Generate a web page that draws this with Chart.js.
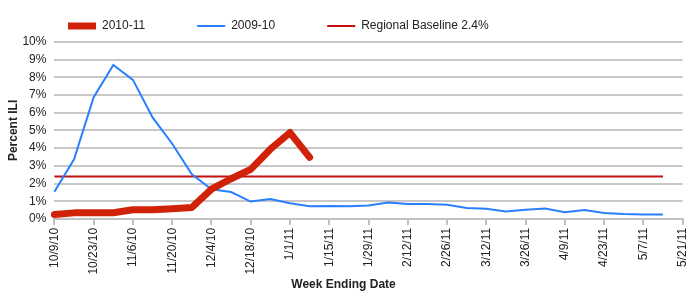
<!DOCTYPE html>
<html>
<head>
<meta charset="utf-8">
<script src="https://cdn.jsdelivr.net/npm/chart.js@4"></script>
<style>
  body { margin: 0; background: #fff; }
</style>
</head>
<body>
<canvas id="chart" width="700" height="300"></canvas>
<script>
const weeks = [
    '10/9/10', '10/16/10', '10/23/10', '10/30/10', '11/6/10', '11/13/10', '11/20/10', '11/27/10',
    '12/4/10', '12/11/10', '12/18/10', '12/25/10', '1/1/11', '1/8/11', '1/15/11', '1/22/11',
    '1/29/11', '2/5/11', '2/12/11', '2/19/11', '2/26/11', '3/5/11', '3/12/11', '3/19/11',
    '3/26/11', '4/2/11', '4/9/11', '4/16/11', '4/23/11', '4/30/11', '5/7/11', '5/14/11', '5/21/11'
];

// percent ILI per week
const season2010 = [0.25, 0.34, 0.35, 0.35, 0.52, 0.52, 0.57, 0.64, 1.68, 2.27, 2.8, 3.94, 4.88, 3.48];
const season2009 = [
    1.53, 3.37, 6.88, 8.70, 7.86, 5.74, 4.25, 2.52, 1.67, 1.52, 0.98, 1.12, 0.88, 0.72, 0.73, 0.71,
    0.76, 0.93, 0.84, 0.84, 0.80, 0.61, 0.57, 0.42, 0.52, 0.59, 0.38, 0.50, 0.33, 0.27, 0.25, 0.25
];
const baseline = 2.4;
const baselineSpan = ['10/9/10', '5/14/11'];

const yTicks = [0, 10, 1];

const font = "'Liberation Sans', Arial, sans-serif";

// move legend to the right a bit, like the original
const legendNudge = {
    id: 'legendNudge',
    afterLayout(chart) {
        chart.legend.left += 16;
    }
};

const data = {
    labels: weeks,
    datasets: [{
        label: '2010-11',
        data: season2010,
        borderColor: '#d02208',
        backgroundColor: '#d02208',
        borderWidth: 7,
        borderCapStyle: 'round',
        borderJoinStyle: 'round',
        pointRadius: 0,
        tension: 0
    }, {
        label: '2009-10',
        data: season2009,
        borderColor: '#2a7fff',
        backgroundColor: '#2a7fff',
        borderWidth: 2,
        pointRadius: 0,
        tension: 0
    }, {
        label: 'Regional Baseline ' + baseline + '%',
        data: baselineSpan.map(w => ({x: w, y: baseline})),
        borderColor: '#c41010',
        backgroundColor: '#c41010',
        borderWidth: 2,
        pointRadius: 0
    }]
};

const config = {
    type: 'line',
    data: data,
    options: {
        responsive: false,
        animation: false,
        layout: {
            padding: {top: -32, right: 13, bottom: 0, left: 0}
        },
        plugins: {
            legend: {
                align: 'start',
                labels: {
                    usePointStyle: true,
                    pointStyle: 'line',
                    pointStyleWidth: 28,
                    padding: 52,
                    color: '#222',
                    font: {family: font, size: 12}
                }
            },
            title: {
                display: true,
                position: 'bottom',
                text: 'Week Ending Date',
                color: '#222',
                font: {family: font, size: 12, weight: 'bold'},
                padding: {top: 0, bottom: 8}
            },
            tooltip: {enabled: false}
        },
        scales: {
            x: {
                grid: {
                    drawOnChartArea: false,
                    tickLength: 6,
                    color: '#c0c0c0',
                    lineWidth: 2
                },
                border: {color: '#c0c0c0', width: 2},
                ticks: {
                    autoSkip: false,
                    maxRotation: 90,
                    minRotation: 90,
                    padding: 3,
                    color: '#222',
                    font: {family: font, size: 12},
                    callback: (v, i) => i % 2 === 0 ? weeks[i] : null
                }
            },
            y: {
                min: yTicks[0],
                max: yTicks[1],
                grid: {
                    color: '#c8c8c8',
                    lineWidth: 2,
                    drawTicks: false
                },
                border: {display: false},
                ticks: {
                    stepSize: yTicks[2],
                    autoSkip: false,
                    padding: 8,
                    color: '#222',
                    font: {family: font, size: 12},
                    callback: v => v + '%'
                },
                title: {
                    display: true,
                    text: 'Percent ILI',
                    color: '#222',
                    font: {family: font, size: 12, weight: 'bold'},
                    padding: {top: 6, bottom: -6}
                }
            }
        }
    },
    plugins: [legendNudge]
};

const myChart = new Chart(document.getElementById('chart'), config);
</script>
</body>
</html>
